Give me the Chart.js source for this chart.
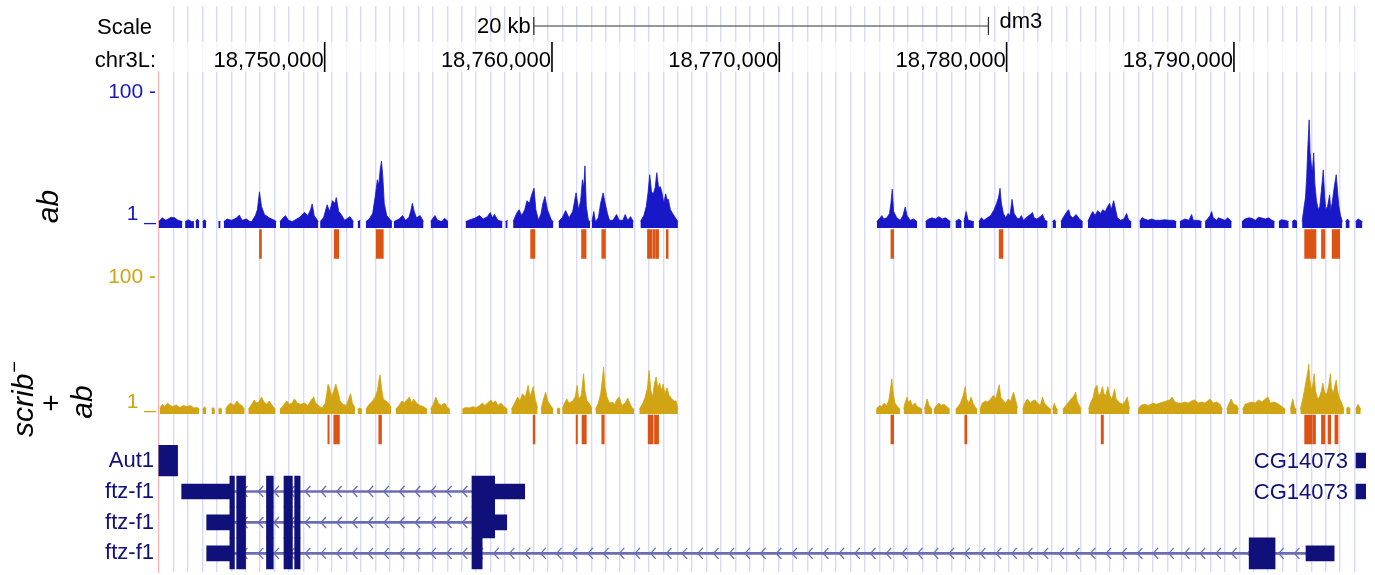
<!DOCTYPE html>
<html><head><meta charset="utf-8">
<script src="https://cdn.jsdelivr.net/npm/chart.js@4.4.1/dist/chart.umd.min.js"></script>
<style>html,body{margin:0;padding:0;background:#fff}#wrap{position:relative;width:1375px;height:575px}</style>
</head><body><div id="wrap"><canvas id="c"></canvas></div>
<script>
// ---------------- data (genomic positions in kb on chr3L, dm3) ----------------
const chrom = 'chr3L:';
const assembly = 'dm3';
const viewStart = 18742.69, viewEnd = 18795.81;
const posTicks = [18750, 18760, 18770, 18780, 18790];
const scaleBarStart = 18759.2, scaleBarKb = 20;
const guideStart = 18743.36, guideStep = 0.6335;
const sigTicks = [1, 100];

// ab signal: [position kb, value]; null = no data
const abSignal = [
[18742.70,1.05],[18742.86,1.2],[18743.01,1.1],[18743.24,1.22],[18743.40,1.2],[18743.55,1.1],[18743.74,1.05],[18743.80,null],
[18743.86,1.05],[18744.01,1.12],[18744.14,1.05],[18744.25,1.05],[18744.28,null],[18744.32,1.05],[18744.40,1.15],[18744.48,1.05],[18744.55,null],
[18744.63,1.05],[18744.71,1.12],[18744.79,1.05],[18744.90,null],[18745.32,1.05],[18745.42,1.05],[18745.48,null],
[18745.56,1.05],[18745.71,1.15],[18745.90,1.1],[18746.10,1.18],[18746.25,1.32],[18746.36,1.1],[18746.56,1.15],[18746.71,1.05],[18746.79,1.05],
[18746.95,1.3],[18747.04,1.6],[18747.13,3.0],[18747.22,1.8],[18747.35,1.35],[18747.56,1.2],[18747.79,1.1],[18747.87,1.05],[18747.95,null],
[18748.03,1.05],[18748.18,1.2],[18748.27,1.3],[18748.41,1.1],[18748.57,1.05],[18748.67,1.1],[18748.87,1.2],[18749.11,1.45],[18749.26,1.3],
[18749.38,1.6],[18749.45,1.96],[18749.54,1.3],[18749.72,1.05],[18749.76,null],
[18749.80,1.05],[18749.95,1.2],[18750.11,1.9],[18750.22,1.5],[18750.34,2.2],[18750.45,2.0],[18750.51,2.45],[18750.62,1.5],[18750.73,1.35],
[18750.88,1.1],[18751.11,1.25],[18751.27,1.05],[18751.35,null],[18751.45,1.05],[18751.57,1.1],[18751.65,null],
[18751.81,1.05],[18751.96,1.15],[18752.11,1.4],[18752.22,2.5],[18752.32,4.6],[18752.38,3.8],[18752.44,6.5],[18752.50,8.8],[18752.56,5.0],
[18752.62,2.0],[18752.73,1.3],[18752.96,1.05],[18753.00,null],
[18753.04,1.05],[18753.27,1.15],[18753.43,1.3],[18753.55,1.1],[18753.70,1.2],[18753.78,1.5],[18753.86,2.0],[18753.94,1.5],[18754.04,1.2],
[18754.20,1.3],[18754.35,1.05],[18754.50,null],
[18754.66,1.05],[18754.85,1.3],[18754.97,1.1],[18755.15,1.05],[18755.28,1.18],[18755.43,1.05],[18755.60,null],
[18756.20,1.05],[18756.39,1.12],[18756.59,1.18],[18756.82,1.3],[18756.97,1.15],[18757.16,1.25],[18757.28,1.45],[18757.38,1.2],[18757.47,1.35],
[18757.62,1.1],[18757.82,1.05],[18757.88,null],[18757.95,1.05],[18758.05,1.1],[18758.15,null],
[18758.29,1.05],[18758.44,1.4],[18758.55,1.6],[18758.67,1.3],[18758.80,1.6],[18758.90,2.2],[18759.01,2.0],[18759.09,2.6],[18759.21,3.4],
[18759.29,1.6],[18759.41,1.1],[18759.52,1.4],[18759.60,2.0],[18759.69,2.55],[18759.80,1.6],[18759.98,1.1],[18760.06,1.05],[18760.15,null],
[18760.29,1.05],[18760.45,1.2],[18760.60,1.55],[18760.75,1.2],[18760.91,1.5],[18761.06,2.9],[18761.17,1.6],[18761.26,2.2],[18761.34,4.6],
[18761.40,3.5],[18761.45,7.5],[18761.51,1.8],[18761.60,1.1],[18761.68,1.05],[18761.72,null],
[18761.76,1.05],[18761.84,1.5],[18761.91,1.05],[18762.04,1.2],[18762.14,2.0],[18762.25,2.9],[18762.34,2.0],[18762.44,1.4],[18762.53,1.1],
[18762.68,1.1],[18762.84,1.35],[18762.96,1.1],[18763.12,1.1],[18763.22,1.35],[18763.33,1.1],[18763.46,1.25],[18763.58,1.05],[18763.70,null],
[18763.89,1.05],[18764.04,1.3],[18764.15,1.8],[18764.23,3.0],[18764.30,5.5],[18764.38,3.0],[18764.46,2.8],[18764.54,3.5],[18764.61,5.9],
[18764.69,3.5],[18764.77,3.6],[18764.84,2.9],[18764.92,2.0],[18765.00,2.8],[18765.06,2.3],[18765.12,2.3],[18765.21,1.6],[18765.31,1.4],
[18765.43,1.2],[18765.54,1.05],[18765.60,null],
[18774.29,1.05],[18774.44,1.2],[18774.51,1.3],[18774.59,1.15],[18774.73,1.2],[18774.85,1.4],[18774.91,2.0],[18774.97,3.3],[18775.03,1.5],
[18775.17,1.2],[18775.32,1.1],[18775.44,1.3],[18775.54,1.76],[18775.62,1.3],[18775.76,1.1],[18775.91,1.15],[18776.06,1.05],[18776.20,null],
[18776.43,1.05],[18776.57,1.15],[18776.72,1.2],[18776.87,1.15],[18777.02,1.25],[18777.16,1.15],[18777.31,1.2],[18777.46,1.1],[18777.53,1.05],[18777.60,null],
[18777.75,1.05],[18777.90,1.15],[18778.02,1.05],[18778.07,null],[18778.12,1.05],[18778.22,1.5],[18778.31,1.1],[18778.56,1.05],[18778.65,null],
[18778.78,1.05],[18778.89,1.2],[18779.00,1.1],[18779.15,1.2],[18779.30,1.3],[18779.45,1.6],[18779.56,2.0],[18779.65,2.5],[18779.71,3.4],
[18779.77,2.0],[18779.86,1.4],[18779.96,1.2],[18780.07,1.4],[18780.15,1.3],[18780.24,2.3],[18780.33,1.4],[18780.45,1.2],[18780.55,1.15],
[18780.65,1.3],[18780.74,1.1],[18780.85,1.2],[18781.04,1.35],[18781.14,1.45],[18781.21,1.2],[18781.33,1.15],[18781.48,1.25],[18781.58,1.35],
[18781.69,1.1],[18781.80,1.05],[18781.90,null],[18782.02,1.05],[18782.10,1.12],[18782.17,1.05],[18782.25,null],
[18782.39,1.05],[18782.54,1.3],[18782.66,1.5],[18782.73,1.6],[18782.80,1.3],[18782.91,1.2],[18783.06,1.35],[18783.20,1.15],[18783.35,1.05],[18783.45,null],
[18783.57,1.05],[18783.69,1.3],[18783.79,1.5],[18783.89,1.3],[18784.01,1.55],[18784.13,1.4],[18784.23,1.6],[18784.34,1.5],[18784.45,1.8],
[18784.53,2.0],[18784.60,1.6],[18784.71,2.2],[18784.78,1.7],[18784.87,1.2],[18785.01,1.1],[18785.16,1.15],[18785.28,1.4],[18785.37,1.1],
[18785.49,1.05],[18785.60,null],
[18785.85,1.05],[18785.96,1.2],[18786.07,1.15],[18786.22,1.1],[18786.37,1.15],[18786.55,1.1],[18786.74,1.1],[18786.96,1.12],[18787.18,1.1],
[18787.33,1.1],[18787.47,1.05],[18787.52,null],[18787.62,1.05],[18787.84,1.15],[18788.02,1.1],[18788.14,1.35],[18788.21,1.1],[18788.43,1.1],
[18788.58,1.05],[18788.65,null],
[18788.73,1.05],[18788.84,1.15],[18788.95,1.3],[18789.02,1.5],[18789.09,1.2],[18789.24,1.1],[18789.32,1.2],[18789.46,1.15],[18789.61,1.1],
[18789.73,1.2],[18789.90,1.05],[18790.00,null],
[18790.35,1.05],[18790.49,1.15],[18790.64,1.2],[18790.79,1.18],[18790.94,1.1],[18791.08,1.22],[18791.20,1.2],[18791.38,1.15],[18791.53,1.2],
[18791.67,1.1],[18791.79,1.05],[18791.85,null],
[18791.97,1.05],[18792.08,1.12],[18792.26,1.1],[18792.41,1.05],[18792.45,null],[18792.56,1.05],[18792.67,1.12],[18792.78,1.05],[18792.85,null],
[18793.00,1.05],[18793.07,1.6],[18793.15,2.5],[18793.20,5],[18793.25,14],[18793.31,38],[18793.35,12],[18793.40,8],[18793.45,6],
[18793.51,11.8],[18793.56,4],[18793.63,2.2],[18793.71,1.6],[18793.78,1.8],[18793.85,3.2],[18793.93,6.5],[18793.99,2.6],[18794.04,1.6],
[18794.12,1.8],[18794.21,2.7],[18794.26,1.6],[18794.32,2.0],[18794.41,3.5],[18794.50,5.5],[18794.56,3.0],[18794.62,1.8],[18794.69,1.3],
[18794.77,1.05],[18794.85,null],
[18794.91,1.05],[18795.00,1.15],[18795.09,1.05],[18795.20,null],[18795.35,1.05],[18795.47,1.15],[18795.65,1.05]
];

// scrib- + ab signal: [position kb, value]; null = no data
const scribSignal = [
[18742.75,1.09],[18742.86,1.25],[18742.96,1.15],[18743.09,1.3],[18743.21,1.2],[18743.32,1.15],[18743.47,1.22],[18743.63,1.12],[18743.78,1.2],
[18743.94,1.15],[18744.09,1.2],[18744.25,1.1],[18744.40,1.12],[18744.48,1.05],[18744.55,null],
[18744.63,1.05],[18744.72,1.15],[18744.79,1.05],[18744.90,null],[18745.02,1.05],[18745.09,1.12],[18745.17,1.05],[18745.25,null],
[18745.32,1.05],[18745.40,1.1],[18745.48,1.05],[18745.55,null],
[18745.63,1.05],[18745.74,1.2],[18745.86,1.3],[18746.02,1.2],[18746.14,1.4],[18746.25,1.25],[18746.36,1.2],[18746.48,1.05],[18746.55,null],
[18746.64,1.05],[18746.79,1.25],[18746.90,1.45],[18746.99,1.3],[18747.10,1.35],[18747.22,1.6],[18747.33,1.35],[18747.45,1.25],[18747.56,1.4],
[18747.69,1.2],[18747.84,1.05],[18747.95,null],
[18748.03,1.05],[18748.18,1.2],[18748.33,1.4],[18748.46,1.25],[18748.57,1.3],[18748.67,1.5],[18748.80,1.3],[18748.95,1.25],[18749.11,1.3],
[18749.26,1.2],[18749.41,1.45],[18749.52,1.6],[18749.60,1.3],[18749.72,1.2],[18749.88,1.1],[18750.03,1.3],[18750.15,2.5],[18750.22,2.2],
[18750.31,1.6],[18750.40,2.0],[18750.49,2.5],[18750.59,1.9],[18750.68,1.4],[18750.80,1.25],[18750.96,1.2],[18751.08,1.6],[18751.14,1.8],
[18751.22,1.3],[18751.34,1.1],[18751.40,null],
[18751.45,1.05],[18751.54,1.1],[18751.64,1.05],[18751.70,null],
[18751.81,1.05],[18751.96,1.25],[18752.11,1.4],[18752.22,1.6],[18752.32,2.0],[18752.38,2.8],[18752.44,3.45],[18752.50,2.2],[18752.58,1.5],
[18752.69,1.4],[18752.81,1.3],[18752.93,1.1],[18753.00,null],
[18753.12,1.05],[18753.27,1.2],[18753.40,1.4],[18753.50,1.3],[18753.61,1.45],[18753.73,1.6],[18753.83,1.3],[18753.92,1.5],[18754.04,1.3],
[18754.20,1.2],[18754.35,1.15],[18754.51,1.05],[18754.60,null],
[18754.66,1.05],[18754.78,1.25],[18754.89,1.6],[18755.00,1.3],[18755.12,1.2],[18755.28,1.3],[18755.37,1.15],[18755.51,1.05],[18755.70,null],
[18756.05,1.05],[18756.20,1.12],[18756.36,1.1],[18756.51,1.15],[18756.67,1.12],[18756.82,1.2],[18756.94,1.3],[18757.05,1.2],[18757.21,1.35],
[18757.31,1.45],[18757.41,1.3],[18757.52,1.4],[18757.62,1.2],[18757.75,1.3],[18757.90,1.15],[18758.05,1.05],[18758.15,null],
[18758.21,1.05],[18758.36,1.3],[18758.49,1.6],[18758.59,1.4],[18758.70,1.8],[18758.83,1.6],[18758.95,2.4],[18759.03,1.6],[18759.10,1.9],
[18759.18,2.3],[18759.26,1.5],[18759.37,1.1],[18759.45,null],
[18759.52,1.05],[18759.63,1.5],[18759.72,1.9],[18759.81,1.4],[18759.94,1.2],[18760.06,1.05],[18760.15,null],[18760.21,1.05],[18760.29,1.1],
[18760.37,1.05],[18760.41,null],
[18760.45,1.05],[18760.55,1.3],[18760.65,1.5],[18760.75,1.3],[18760.91,1.4],[18761.02,1.6],[18761.11,2.4],[18761.17,1.5],[18761.29,1.7],
[18761.39,3.6],[18761.45,2.0],[18761.54,1.4],[18761.63,1.3],[18761.76,1.1],[18761.80,null],
[18761.91,1.05],[18762.04,1.3],[18762.14,1.8],[18762.22,3.0],[18762.27,4.5],[18762.33,2.3],[18762.42,1.6],[18762.53,1.3],[18762.65,1.35],
[18762.76,1.25],[18762.87,1.5],[18762.96,1.6],[18763.07,1.2],[18763.22,1.3],[18763.33,1.55],[18763.42,1.3],[18763.53,1.1],[18763.61,1.05],[18763.70,null],
[18763.84,1.05],[18764.00,1.3],[18764.10,1.6],[18764.20,2.2],[18764.27,4.0],[18764.35,2.0],[18764.43,1.6],[18764.50,2.5],[18764.58,3.2],
[18764.66,2.2],[18764.74,2.6],[18764.81,2.0],[18764.89,2.5],[18764.97,1.8],[18765.06,2.2],[18765.15,1.7],[18765.28,1.5],[18765.38,1.4],
[18765.46,1.4],[18765.54,1.05],[18765.60,null],
[18774.26,1.05],[18774.41,1.2],[18774.51,1.15],[18774.61,1.3],[18774.73,1.2],[18774.82,1.45],[18774.88,2.0],[18774.95,3.0],[18775.01,1.8],
[18775.09,1.3],[18775.20,1.15],[18775.32,1.05],[18775.40,null],
[18775.47,1.05],[18775.54,1.35],[18775.62,1.6],[18775.69,1.3],[18775.76,1.45],[18775.85,1.2],[18775.98,1.3],[18776.06,1.15],[18776.21,1.1],
[18776.28,1.05],[18776.33,null],
[18776.38,1.05],[18776.50,1.5],[18776.59,1.2],[18776.72,1.05],[18776.76,null],
[18776.80,1.05],[18776.91,1.2],[18777.02,1.3],[18777.12,1.2],[18777.24,1.25],[18777.38,1.15],[18777.50,1.05],[18777.60,null],
[18777.75,1.05],[18777.86,1.15],[18777.97,1.3],[18778.09,1.7],[18778.18,2.3],[18778.24,1.5],[18778.34,1.3],[18778.44,1.6],[18778.52,1.3],
[18778.64,1.1],[18778.71,1.05],[18778.76,null],
[18778.83,1.05],[18778.93,1.3],[18779.08,1.4],[18779.18,1.35],[18779.30,1.5],[18779.42,1.7],[18779.52,1.5],[18779.59,1.9],[18779.68,2.45],
[18779.74,1.6],[18779.86,1.4],[18779.96,1.3],[18780.07,1.5],[18780.18,1.4],[18780.30,1.9],[18780.36,1.6],[18780.48,1.1],[18780.60,null],
[18780.70,1.05],[18780.80,1.3],[18780.92,1.5],[18781.04,1.3],[18781.14,1.4],[18781.24,1.45],[18781.36,1.3],[18781.48,1.2],[18781.58,1.6],
[18781.66,1.3],[18781.80,1.15],[18781.95,1.05],[18781.98,null],[18782.02,1.05],[18782.10,1.3],[18782.17,1.1],[18782.25,1.05],[18782.35,null],
[18782.47,1.05],[18782.61,1.2],[18782.76,1.4],[18782.95,1.65],[18783.04,1.9],[18783.10,1.4],[18783.20,1.2],[18783.28,1.05],[18783.40,null],
[18783.60,1.05],[18783.69,1.3],[18783.81,1.6],[18783.89,2.2],[18783.98,2.4],[18784.04,1.7],[18784.13,1.8],[18784.22,2.3],[18784.28,1.8],
[18784.37,1.7],[18784.45,2.3],[18784.53,1.7],[18784.63,1.5],[18784.75,2.1],[18784.82,1.5],[18784.97,1.3],[18785.12,1.25],[18785.22,1.4],
[18785.31,1.6],[18785.41,1.05],[18785.55,null],
[18785.78,1.05],[18785.90,1.2],[18786.07,1.25],[18786.25,1.2],[18786.44,1.3],[18786.59,1.25],[18786.74,1.3],[18786.89,1.35],[18787.03,1.4],
[18787.18,1.45],[18787.28,1.6],[18787.40,1.35],[18787.55,1.3],[18787.70,1.3],[18787.84,1.35],[18787.99,1.3],[18788.14,1.4],[18788.28,1.45],
[18788.43,1.3],[18788.58,1.35],[18788.73,1.3],[18788.84,1.4],[18788.95,1.5],[18789.09,1.3],[18789.24,1.35],[18789.39,1.25],[18789.49,1.05],[18789.55,null],
[18789.68,1.05],[18789.79,1.3],[18789.88,1.5],[18789.98,1.25],[18790.13,1.2],[18790.20,1.05],[18790.28,null],
[18790.38,1.05],[18790.49,1.25],[18790.64,1.3],[18790.79,1.35],[18790.94,1.3],[18791.08,1.45],[18791.23,1.35],[18791.38,1.5],[18791.50,1.6],
[18791.60,1.3],[18791.75,1.35],[18791.89,1.3],[18792.04,1.2],[18792.19,1.1],[18792.26,1.05],[18792.38,null],
[18792.48,1.05],[18792.59,1.5],[18792.67,1.1],[18792.75,1.05],[18792.85,null],
[18792.92,1.05],[18793.03,1.5],[18793.12,2.2],[18793.19,3.0],[18793.25,3.8],[18793.29,5.0],[18793.34,3.0],[18793.41,2.0],[18793.48,2.6],
[18793.53,3.6],[18793.59,2.0],[18793.68,1.5],[18793.76,1.6],[18793.85,2.0],[18793.91,2.6],[18794.00,1.8],[18794.09,1.8],[18794.18,2.5],
[18794.24,3.6],[18794.29,2.2],[18794.37,1.8],[18794.44,2.4],[18794.50,2.9],[18794.57,1.9],[18794.65,1.5],[18794.74,1.3],[18794.84,1.05],[18794.88,null],
[18794.94,1.05],[18795.03,1.15],[18795.13,1.05],[18795.25,null],[18795.35,1.05],[18795.46,1.25],[18795.58,1.05]
];

// called peaks: [start kb, end kb]
const abPeaks = [[18747.13,18747.22],[18750.42,18750.62],[18752.27,18752.58],[18759.06,18759.25],[18761.30,18761.50],[18762.19,18762.35],
  [18764.20,18764.40],[18764.44,18764.55],[18764.58,18764.69],[18765.03,18765.11],[18774.91,18775.03],[18779.67,18779.84],
  [18793.11,18793.61],[18793.85,18794.00],[18794.32,18794.65]];
const scribPeaks = [[18750.14,18750.20],[18750.40,18750.65],[18752.38,18752.50],[18759.17,18759.25],[18761.06,18761.12],[18761.32,18761.51],
  [18762.19,18762.30],[18764.23,18764.45],[18764.51,18764.69],[18774.91,18775.03],[18778.16,18778.25],[18784.16,18784.26],
  [18793.11,18793.44],[18793.47,18793.59],[18793.85,18794.00],[18794.14,18794.26],[18794.44,18794.58]];

// gene models: [row, start kb, end kb]
const geneRowLabels = ['Aut1', 'ftz-f1', 'ftz-f1', 'ftz-f1'];
const cdsBlocks = [
  [0,18742.40,18743.53],
  [1,18745.83,18746.03],[1,18746.13,18746.52],[1,18747.44,18747.74],[1,18748.21,18748.58],[1,18748.68,18748.92],[1,18756.48,18757.48],
  [2,18745.83,18746.03],[2,18746.13,18746.52],[2,18747.44,18747.74],[2,18748.21,18748.58],[2,18748.68,18748.92],[2,18756.48,18757.48],
  [3,18745.83,18746.03],[3,18746.13,18746.52],[3,18747.44,18747.74],[3,18748.21,18748.58],[3,18748.68,18748.92],[3,18756.48,18756.93],
  [3,18790.67,18791.81]];
const utrBlocks = [
  [0,18795.37,18796.30],[1,18795.37,18796.30],
  [1,18743.71,18745.83],[1,18757.48,18758.80],
  [2,18744.81,18745.83],[2,18757.48,18758.01],
  [3,18744.81,18745.83],[3,18793.17,18794.41]];
const introns = [[1,18745.83,18756.48],[2,18745.83,18756.48],[3,18745.83,18793.17]];
const innerGeneLabels = [['CG14073',0,18795.37],['CG14073',1,18795.37]];

// ---------------- styling ----------------
const FONT = "'Liberation Sans', Arial, Helvetica, sans-serif";
const BLUE = '#1818c8', GOLD = '#d1a414', ORANGE = '#dc5414', NAVY = '#10107a', INTRON = '#6c6cb4';
const GUIDE = '#d9d9fb', EDGE = '#ffb0b0';
const scaleLabelLevel = 0.39, scaleBarLevel = 0.444, posLabelLevel = 0.38;
const fitW = s => { s.width = 158.5; s.paddingTop = 0; s.paddingBottom = 0; };

const ucsc = {
  id: 'ucsc',
  beforeDatasetsDraw(chart) {
    const {ctx, chartArea: ca, scales} = chart;
    const xs = scales.x, yp = scales.yPos, yg = scales.yGene;
    ctx.save();
    ctx.fillStyle = 'rgba(255,255,255,0.72)';
    ctx.fillRect(ca.left, yp.top, ca.right - ca.left, yp.bottom - yp.top);
    ctx.beginPath(); ctx.rect(ca.left, ca.top, ca.right - ca.left, ca.bottom - ca.top); ctx.clip();
    ctx.strokeStyle = INTRON; ctx.lineWidth = 1.3;
    introns.forEach(([r, s, e]) => {
      const x0 = xs.getPixelForValue(s), x1 = xs.getPixelForValue(e), y = yg.getPixelForValue(r);
      for (let x = ca.left + 7; x < x1 - 4; x += 15.7) {
        if (x < x0 + 4) continue;
        ctx.beginPath(); ctx.moveTo(x + 3.5, y - 5.5); ctx.lineTo(x - 1.5, y); ctx.lineTo(x + 3.5, y + 5.5); ctx.stroke();
      }
    });
    ctx.restore();
  },
  afterDatasetsDraw(chart) {
    const {ctx, scales} = chart;
    const xs = scales.x, yp = scales.yPos, ysb = scales.yScale, yg = scales.yGene;
    ctx.save();
    ctx.fillStyle = '#000'; ctx.font = '22px ' + FONT; ctx.textBaseline = 'middle';
    ctx.textAlign = 'right';
    const yl = yp.getPixelForValue(posLabelLevel);
    posTicks.forEach(v => ctx.fillText(Math.round(v * 1000).toLocaleString('en-US'), xs.getPixelForValue(v) - 1, yl));
    const yb = ysb.getPixelForValue(scaleBarLevel);
    ctx.fillText(scaleBarKb + ' kb', xs.getPixelForValue(scaleBarStart) - 3, yb + 1);
    ctx.textAlign = 'left';
    ctx.fillText(assembly, xs.getPixelForValue(scaleBarStart + scaleBarKb) + 11, yb - 4);
    ctx.fillStyle = NAVY; ctx.textAlign = 'right';
    innerGeneLabels.forEach(([t, r, p]) => ctx.fillText(t, xs.getPixelForValue(p) - 8, yg.getPixelForValue(r) + 1));
    ctx.restore();
  },
  afterDraw(chart) {
    const {ctx, scales} = chart;
    const s1 = scales.ySig1, s2 = scales.ySig2;
    ctx.save();
    ctx.fillStyle = '#000'; ctx.textBaseline = 'alphabetic';
    ctx.save(); ctx.translate(58, s1.bottom - 21.5); ctx.rotate(-Math.PI / 2);
    ctx.font = 'italic 30px ' + FONT; ctx.textAlign = 'center'; ctx.fillText('ab', 0, 0); ctx.restore();
    const cy = s2.bottom - 15;
    ctx.save(); ctx.translate(33, cy); ctx.rotate(-Math.PI / 2);
    ctx.font = 'italic 30px ' + FONT; const w1 = ctx.measureText('scrib').width;
    ctx.font = '20px ' + FONT; const w2 = ctx.measureText('\u2212').width;
    const x0 = -(w1 + w2 + 1) / 2;
    ctx.textAlign = 'left';
    ctx.font = 'italic 30px ' + FONT; ctx.fillText('scrib', x0, 0);
    ctx.font = '20px ' + FONT; ctx.fillText('\u2212', x0 + w1 + 1, -12);
    ctx.restore();
    ctx.save(); ctx.translate(61, cy + 4); ctx.rotate(-Math.PI / 2);
    ctx.font = '30px ' + FONT; ctx.textAlign = 'center'; ctx.fillText('+', 0, 0); ctx.restore();
    ctx.save(); ctx.translate(92, cy + 3); ctx.rotate(-Math.PI / 2);
    ctx.font = 'italic 30px ' + FONT; ctx.textAlign = 'center'; ctx.fillText('ab', 0, 0); ctx.restore();
    ctx.restore();
  }
};

const sigAxis = (weight, w, min, max, color) => ({
  axis: 'y', type: 'logarithmic', position: 'left', stack: 'trk', stackWeight: w, weight, min, max, bounds: 'data', offset: false,
  afterFit: fitW,
  afterBuildTicks: s => { s.ticks = sigTicks.map(v => ({value: v})); },
  ticks: {
    autoSkip: false, color, padding: 2.5,
    font: c => ({size: 21, family: FONT, lineHeight: (c.tick && c.tick.value === 1) ? 0.8 : 1.2}),
    callback: v => v === 1 ? ['1 _', ''] : v + ' -'
  },
  grid: {display: false, drawTicks: false, offset: false},
  border: {display: true, color: EDGE, width: 1.2}
});
const plainAxis = (weight, w, showBorder) => ({
  axis: 'y', type: 'linear', position: 'left', stack: 'trk', stackWeight: w, weight, min: 0, max: 1, bounds: 'data', offset: false,
  afterFit: fitW, afterBuildTicks: s => { s.ticks = []; },
  ticks: {display: false},
  grid: {display: false, drawTicks: false, offset: false},
  border: {display: showBorder, color: EDGE, width: 1.2}
});
const labelAxis = (weight, w, level, text, pad) => ({
  axis: 'y', type: 'linear', position: 'left', stack: 'trk', stackWeight: w, weight, min: 0, max: 1, bounds: 'data', offset: false,
  afterFit: fitW, afterBuildTicks: s => { s.ticks = [{value: level}]; },
  ticks: {autoSkip: false, color: '#000', padding: pad, font: {size: 22, family: FONT}, callback: () => text},
  grid: {display: false, drawTicks: false, offset: false},
  border: {display: false}
});
const hbar = (rows, axisId, color, thick, order) => ({
  type: 'bar', indexAxis: 'y', xAxisID: 'x', yAxisID: axisId, order,
  data: rows, backgroundColor: color, borderWidth: 0,
  grouped: false, barPercentage: 1, categoryPercentage: 1, maxBarThickness: thick
});

new Chart(document.getElementById('c'), {
  type: 'line',
  data: {
    datasets: [
      {type: 'line', xAxisID: 'x', yAxisID: 'ySig1', order: 5, data: abSignal.map(([p, v]) => ({x: p, y: v})),
       fill: 'start', backgroundColor: BLUE, borderColor: BLUE, borderWidth: 0.8, pointRadius: 0, tension: 0, spanGaps: false},
      {type: 'line', xAxisID: 'x', yAxisID: 'ySig2', order: 5, data: scribSignal.map(([p, v]) => ({x: p, y: v})),
       fill: 'start', backgroundColor: GOLD, borderColor: GOLD, borderWidth: 0.8, pointRadius: 0, tension: 0, spanGaps: false},
      hbar(abPeaks.map(([s, e]) => ({x: [s, e], y: 0.5})), 'yPk1', ORANGE, 29, 4),
      hbar(scribPeaks.map(([s, e]) => ({x: [s, e], y: 0.5})), 'yPk2', ORANGE, 29, 4),
      hbar(introns.map(([r, s, e]) => ({x: [s, e], y: r})), 'yGene', INTRON, 2, 3),
      hbar(utrBlocks.map(([r, s, e]) => ({x: [s, e], y: r})), 'yGene', NAVY, 15, 2),
      hbar(cdsBlocks.map(([r, s, e]) => ({x: [s, e], y: r})), 'yGene', NAVY, 31, 1),
      {type: 'line', xAxisID: 'x', yAxisID: 'yScale', order: 0,
       data: [{x: scaleBarStart, y: scaleBarLevel}, {x: scaleBarStart + scaleBarKb, y: scaleBarLevel}],
       borderColor: '#333', borderWidth: 1.2, pointStyle: 'line', pointRotation: 90, pointRadius: 9,
       pointBorderColor: '#333', pointBorderWidth: 1.3, fill: false},
      {type: 'line', xAxisID: 'x', yAxisID: 'yPos', order: 0, showLine: false,
       data: posTicks.map(v => ({x: v, y: 0.5})),
       pointStyle: 'line', pointRotation: 90, pointRadius: 15, pointBorderColor: '#000', pointBorderWidth: 1.6, borderColor: '#000'}
    ]
  },
  options: {
    responsive: true, maintainAspectRatio: false, animation: false, events: [],
    layout: {padding: {top: 6, bottom: 3, left: 0, right: 9}, autoPadding: false},
    plugins: {legend: {display: false}, tooltip: {enabled: false}},
    scales: {
      x: {
        axis: 'x', type: 'linear', position: 'bottom', min: viewStart, max: viewEnd, bounds: 'data', offset: false,
        afterBuildTicks: s => { const t = []; for (let v = guideStart; v <= viewEnd; v += guideStep) t.push({value: v}); s.ticks = t; },
        afterFit: s => { s.height = 0; s.paddingLeft = 0; s.paddingRight = 0; },
        ticks: {display: false},
        grid: {color: GUIDE, lineWidth: 1.4, drawTicks: false, offset: false},
        border: {display: false}
      },
      yScale: labelAxis(7, 36, scaleLabelLevel, 'Scale', 6.5),
      yPos: labelAxis(6, 30, posLabelLevel, chrom, 2.5),
      ySig1: sigAxis(5, 156, 0.838, 206, BLUE),
      yPk1: plainAxis(4, 32, true),
      ySig2: sigAxis(3, 154, 0.892, 183, GOLD),
      yPk2: plainAxis(2, 31, true),
      yGene: {
        axis: 'y', type: 'linear', position: 'left', stack: 'trk', stackWeight: 127, weight: 1,
        min: -0.5, max: 3.6, reverse: true, bounds: 'data', offset: false, afterFit: fitW,
        afterBuildTicks: s => { s.ticks = geneRowLabels.map((_, i) => ({value: i})); },
        ticks: {autoSkip: false, color: NAVY, padding: 4.5, font: {size: 22, family: FONT}, callback: v => geneRowLabels[v]},
        grid: {display: false, drawTicks: false, offset: false},
        border: {display: true, color: EDGE, width: 1.2}
      }
    }
  },
  plugins: [ucsc]
});
</script>
</body></html>
